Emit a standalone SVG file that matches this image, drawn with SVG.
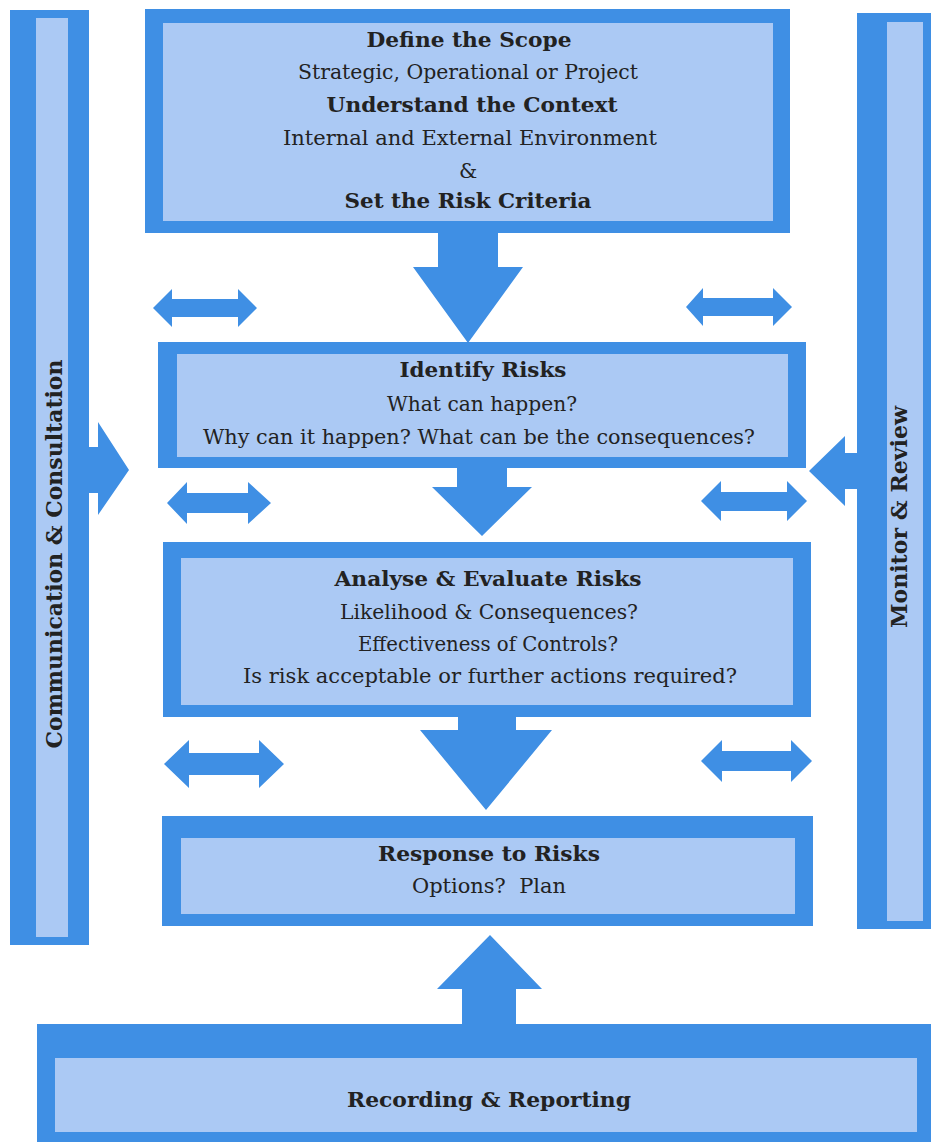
<svg xmlns="http://www.w3.org/2000/svg" width="931" height="1142" viewBox="0 0 931 1142">
<style>
.outer{fill:#3f8fe4}
.inner{fill:#abc9f4}
.arrow{fill:#3f8fe4}
text{font-family:"DejaVu Serif","Liberation Serif",serif;fill:#222;text-anchor:middle}
.t{font-size:20.5px}
.b{font-size:21px;font-weight:bold}
.v{font-size:22px;font-weight:bold}
</style>
<rect width="931" height="1142" fill="#ffffff"/>

<g id="communication">
<rect class="outer" x="10" y="10" width="79" height="935"/>
<rect class="inner" x="36" y="18" width="32" height="919"/>
<text class="v" transform="translate(62,554) rotate(-90)" textLength="389" lengthAdjust="spacingAndGlyphs">Communication &amp; Consultation</text>
</g>

<g id="monitor">
<rect class="outer" x="857" y="13" width="80" height="916"/>
<rect class="inner" x="887" y="22" width="36" height="899"/>
<text class="v" transform="translate(907,517) rotate(-90)" textLength="222" lengthAdjust="spacingAndGlyphs">Monitor &amp; Review</text>
</g>

<g id="scope">
<rect class="outer" x="145" y="9" width="645" height="224"/>
<rect class="inner" x="163" y="23" width="610" height="198"/>
<text class="b" x="469" y="47" textLength="205" lengthAdjust="spacingAndGlyphs">Define the Scope</text>
<text class="t" x="468" y="79" textLength="340" lengthAdjust="spacingAndGlyphs">Strategic, Operational or Project</text>
<text class="b" x="472" y="112" textLength="291" lengthAdjust="spacingAndGlyphs">Understand the Context</text>
<text class="t" x="470" y="145" textLength="374" lengthAdjust="spacingAndGlyphs">Internal and External Environment</text>
<text class="t" x="468" y="178">&amp;</text>
<text class="b" x="468" y="208" textLength="247" lengthAdjust="spacingAndGlyphs">Set the Risk Criteria</text>
</g>

<g id="identify">
<rect class="outer" x="158" y="342" width="648" height="126"/>
<rect class="inner" x="177" y="354" width="611" height="103"/>
<text class="b" x="483" y="377" textLength="167" lengthAdjust="spacingAndGlyphs">Identify Risks</text>
<text class="t" x="482" y="411" textLength="190" lengthAdjust="spacingAndGlyphs">What can happen?</text>
<text class="t" x="479" y="444" textLength="552" lengthAdjust="spacingAndGlyphs">Why can it happen? What can be the consequences?</text>
</g>

<g id="analyse">
<rect class="outer" x="163" y="542" width="648" height="175"/>
<rect class="inner" x="181" y="558" width="612" height="147"/>
<text class="b" x="488" y="586" textLength="307" lengthAdjust="spacingAndGlyphs">Analyse &amp; Evaluate Risks</text>
<text class="t" x="489" y="619" textLength="298" lengthAdjust="spacingAndGlyphs">Likelihood &amp; Consequences?</text>
<text class="t" x="488" y="651" textLength="260" lengthAdjust="spacingAndGlyphs">Effectiveness of Controls?</text>
<text class="t" x="490" y="683" textLength="494" lengthAdjust="spacingAndGlyphs">Is risk acceptable or further actions required?</text>
</g>

<g id="response">
<rect class="outer" x="162" y="816" width="651" height="110"/>
<rect class="inner" x="181" y="838" width="614" height="76"/>
<text class="b" x="489" y="861" textLength="222" lengthAdjust="spacingAndGlyphs">Response to Risks</text>
<text class="t" x="489" y="893" textLength="154" lengthAdjust="spacingAndGlyphs" xml:space="preserve">Options?  Plan</text>
</g>

<g id="recording">
<rect class="outer" x="37" y="1024" width="900" height="130"/>
<rect class="inner" x="55" y="1058" width="862" height="74"/>
<text class="b" x="489" y="1107" textLength="284" lengthAdjust="spacingAndGlyphs">Recording &amp; Reporting</text>
</g>

<g id="connectors">
<polygon class="arrow" points="438,233 498,233 498,267 523,267 468,343 413,267 438,267"/>
<polygon class="arrow" points="457,467 507,467 507,487 532,487 482,536 432,487 457,487"/>
<polygon class="arrow" points="458,717 516,717 516,730 552,730 486,810 420,730 458,730"/>
<polygon class="arrow" points="462,1025 516,1025 516,989 542,989 490,935 437,989 462,989"/>
<polygon class="arrow" points="89,447 98,447 98,422 129,470 98,515 98,493 89,493"/>
<polygon class="arrow" points="857,453 845,453 845,436 809,471 845,506 845,489 857,489"/>
<polygon class="arrow" points="153,308 172,289 172,299 238,299 238,289 257,308 238,327 238,317 172,317 172,327"/>
<polygon class="arrow" points="686,307 703,288 703,298 773,298 773,288 792,307 773,326 773,316 703,316 703,326"/>
<polygon class="arrow" points="167,503 187,482 187,493 248,493 248,482 271,503 248,524 248,513 187,513 187,524"/>
<polygon class="arrow" points="701,501 721,481 721,492 787,492 787,481 807,501 787,521 787,511 721,511 721,521"/>
<polygon class="arrow" points="164,764 189,740 189,753 259,753 259,740 284,764 259,788 259,775 189,775 189,788"/>
<polygon class="arrow" points="701,761 722,740 722,751 791,751 791,740 812,761 791,782 791,771 722,771 722,782"/>
</g>
</svg>
